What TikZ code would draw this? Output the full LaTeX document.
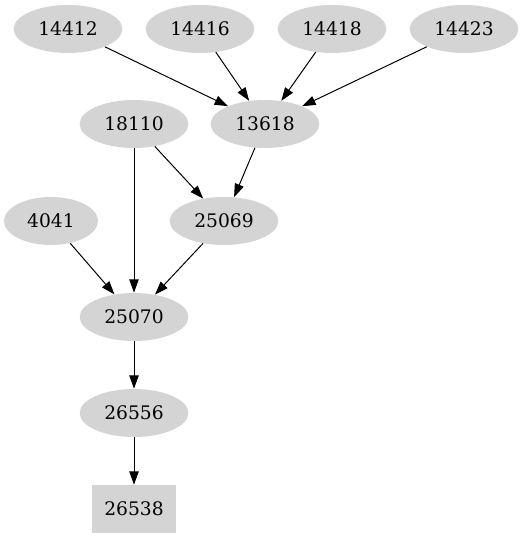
\documentclass[tikz,border=0pt]{standalone}
\usepackage{fontspec}
\setmainfont{DejaVu Serif}
\usetikzlibrary{shapes.geometric,arrows.meta}
\begin{document}
\begin{tikzpicture}[x=0.75pt,y=-0.75pt,
  nd/.style={ellipse,fill=black!17,draw=none,minimum width=81.5pt,minimum height=36pt,inner sep=0pt,font=\fontsize{14pt}{16pt}\selectfont},
  bx/.style={rectangle,fill=black!17,draw=none,minimum width=63pt,minimum height=36pt,inner sep=0pt,font=\fontsize{14pt}{16pt}\selectfont},
  ar/.style={-{Triangle[length=10pt,width=7pt]},line width=0.75pt}]
\useasboundingbox (0,0) rectangle (524,539);
\node[nd] (a) at (68,29) {14412};
\node[nd] (b) at (200,29) {14416};
\node[nd] (c) at (332,29) {14418};
\node[nd] (d) at (464,29) {14423};
\node[nd] (e) at (134,124) {18110};
\node[nd] (f) at (265,124) {13618};
\node[nd,minimum width=70.5pt] (g) at (51,221) {4041};
\node[nd] (h) at (224,221) {25069};
\node[nd] (i) at (134,317) {25070};
\node[nd] (j) at (134,413) {26556};
\node[bx] (k) at (134,509) {26538};
\draw[ar] (a) -- (f);
\draw[ar] (b) -- (f);
\draw[ar] (c) -- (f);
\draw[ar] (d) -- (f);
\draw[ar] (f) -- (h);
\draw[ar] (e) -- (h);
\draw[ar] (e) -- (i);
\draw[ar] (g) -- (i);
\draw[ar] (h) -- (i);
\draw[ar] (i) -- (j);
\draw[ar] (j) -- (k);
\end{tikzpicture}
\end{document}
